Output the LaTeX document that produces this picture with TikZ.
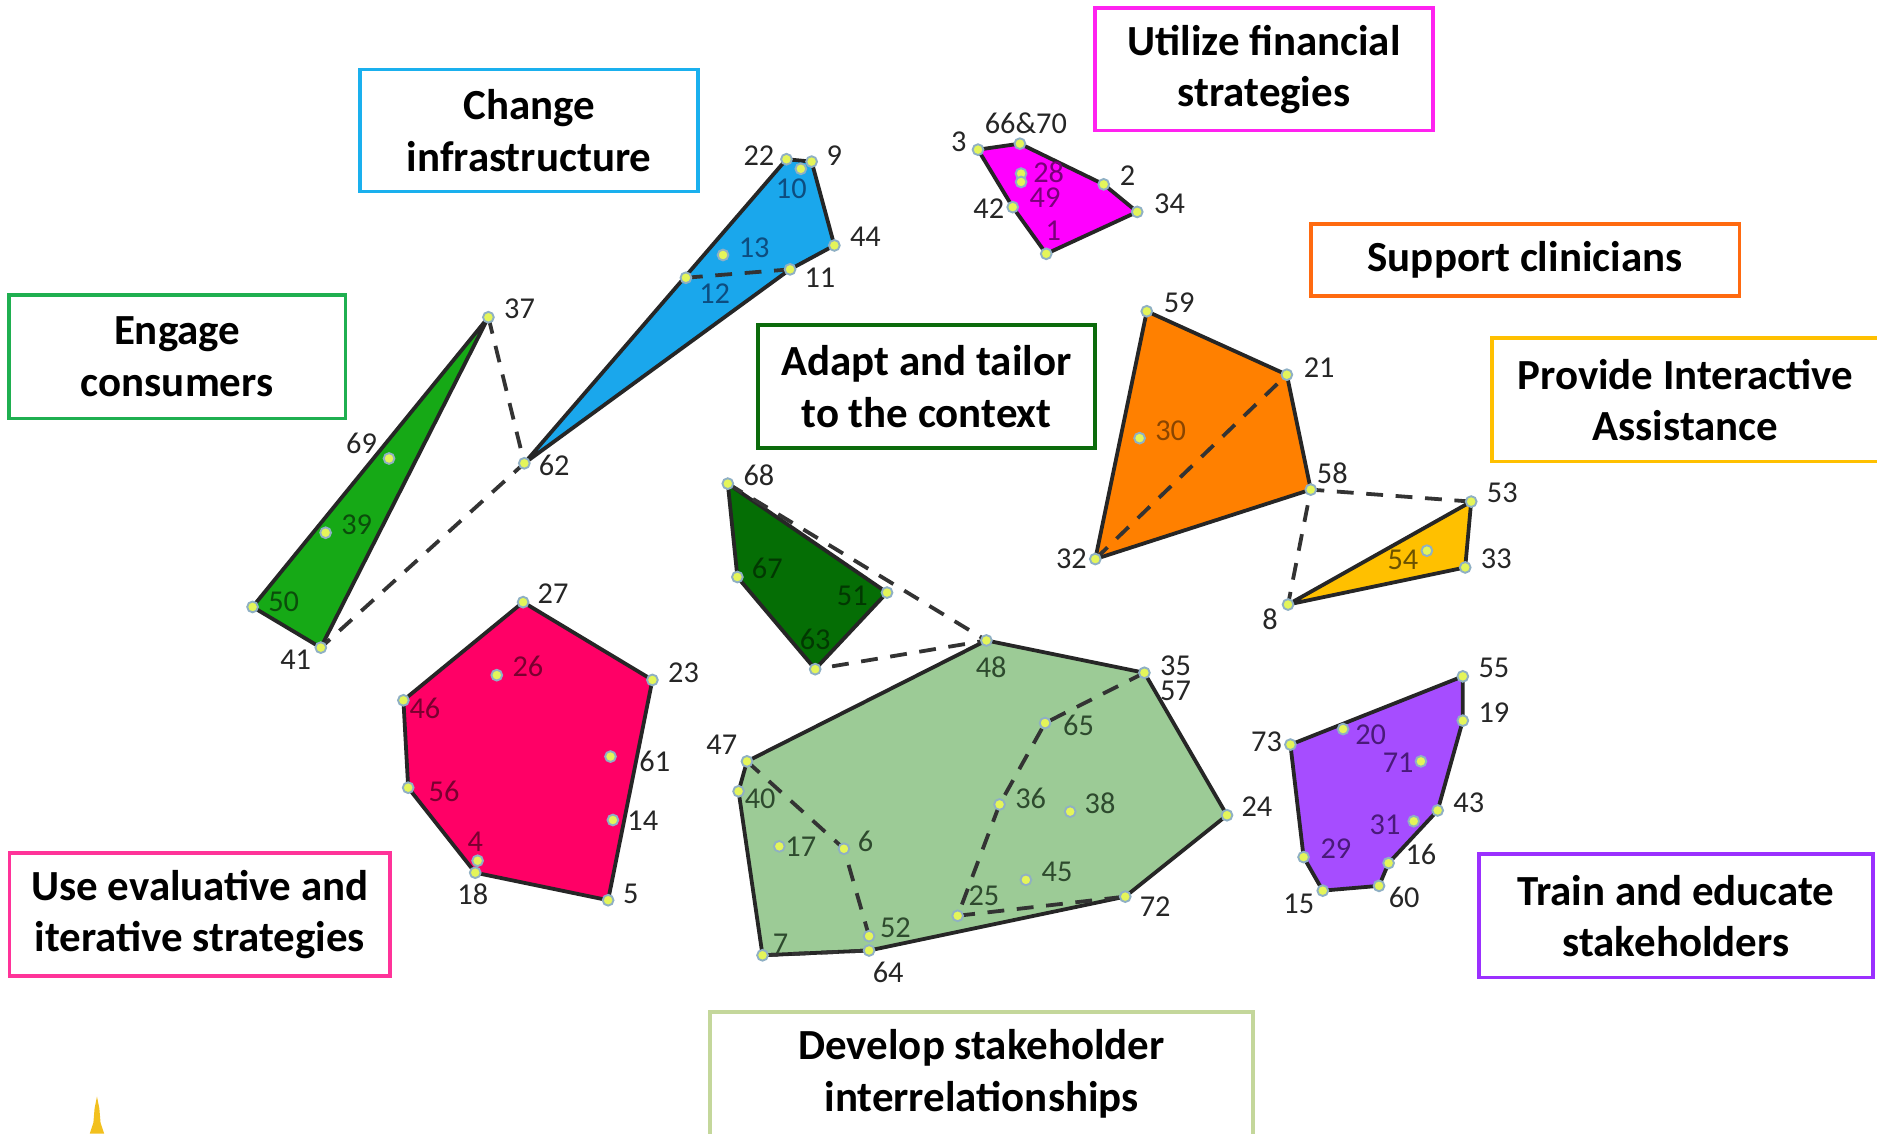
\documentclass[tikz,border=0pt]{standalone}
\usepackage{fontspec}
\setmainfont{Carlito}

\definecolor{cyanfill}{HTML}{1AA7EC}
\definecolor{magfill}{HTML}{FF00FF}
\definecolor{grnfill}{HTML}{16A916}
\definecolor{dkgrnfill}{HTML}{056E05}
\definecolor{orgfill}{HTML}{FF8000}
\definecolor{yelfill}{HTML}{FFC000}
\definecolor{redfill}{HTML}{FF0066}
\definecolor{sagefill}{HTML}{9CCB96}
\definecolor{purfill}{HTML}{A64DFF}
\definecolor{boxblue}{HTML}{1AB0EE}
\definecolor{boxmag}{HTML}{FF22F0}
\definecolor{boxgrn}{HTML}{1FAF50}
\definecolor{boxdkgrn}{HTML}{0B6B0B}
\definecolor{boxorg}{HTML}{FF6A10}
\definecolor{boxyel}{HTML}{FFC000}
\definecolor{boxred}{HTML}{FF3399}
\definecolor{boxsage}{HTML}{C4D79B}
\definecolor{boxpur}{HTML}{9B30FF}
\definecolor{dotfill}{HTML}{E4F55A}
\definecolor{dotrim}{HTML}{8FB0C4}
\definecolor{txblue}{HTML}{0D4D80}
\definecolor{txgrn}{HTML}{0B4D0B}
\definecolor{txdkgrn}{HTML}{023802}
\definecolor{txmag}{HTML}{7A007A}
\definecolor{txorg}{HTML}{8A4500}
\definecolor{txyel}{HTML}{6B5200}
\definecolor{txred}{HTML}{7A0030}
\definecolor{txsage}{HTML}{2E4A2E}
\definecolor{txpur}{HTML}{4A1A7A}
\definecolor{spikecol}{HTML}{F2C01E}

\tikzset{
	catbox/.style={draw=#1, line width=0.9pt, fill=white, align=center, inner sep=0pt,
		font=\bfseries\fontsize{10.2}{12.2}\selectfont},
	hull/.style={fill=#1, draw=black!85, line width=0.9pt, line join=round},
	link/.style={draw=black!80, dash pattern=on 4pt off 3pt, line width=0.9pt},
	dot/.style={circle, fill=dotfill, draw=dotrim, line width=0.45pt, inner sep=0pt, minimum size=0.09cm},
	num/.style={text=#1, inner sep=0pt, font=\fontsize{7.2}{8}\selectfont},
	num/.default=black!85
}

\begin{document}
\begin{tikzpicture}[x=0.01cm, y=-0.01cm]
	\clip (0,0) rectangle (1568,947);
	\fill[white] (0,0) rectangle (1568,947);

	\foreach \n/\x/\y in {22/657/133, 9/678/135, 10/669/141, 44/697/205, 13/604/213, 12/573/232, 11/660/225, 62/438/387,
		37/408/265, 69/325/383, 39/272/445, 50/211/507, 41/268/541,
		3/817/125, 66/852/120, 28/853/145, 49/853/152, 2/922/154, 34/950/177, 42/846/173, 1/874/212,
		59/958/260, 21/1075/313, 30/952/366, 58/1095/409, 32/915/467,
		53/1229/419, 54/1192/460, 33/1224/474, 8/1076/505,
		68/608/404, 67/616/482, 51/741/495, 63/681/559,
		48/824/535, 35/956/562, 65/873/604, 47/624/636, 40/617/661, 36/835/672, 38/894/678, 24/1025/681,
		17/651/707, 6/705/709, 45/857/735, 72/940/749, 25/800/765, 52/726/782, 7/637/798, 64/726/794,
		55/1222/565, 19/1222/602, 73/1078/622, 20/1122/609, 71/1187/636, 43/1201/677, 31/1181/686,
		16/1160/721, 29/1089/716, 15/1105/744, 60/1152/740,
		27/437/503, 26/415/564, 23/545/568, 46/337/585, 61/510/632, 56/341/658, 14/512/685, 4/399/719, 18/397/729, 5/508/752}
		\coordinate (p\n) at (\x,\y);

	\filldraw[hull=cyanfill] (p22) -- (p9) -- (p44) -- (p11) -- (p62) -- cycle;
	\filldraw[hull=grnfill] (p37) -- (p50) -- (p41) -- cycle;
	\filldraw[hull=magfill] (p3) -- (p66) -- (p2) -- (p34) -- (p1) -- (p42) -- cycle;
	\filldraw[hull=orgfill] (p59) -- (p21) -- (p58) -- (p32) -- cycle;
	\filldraw[hull=yelfill] (p53) -- (p33) -- (p8) -- cycle;
	\filldraw[hull=dkgrnfill] (p68) -- (p51) -- (p63) -- (p67) -- cycle;
	\filldraw[hull=sagefill] (p48) -- (p35) -- (p24) -- (p72) -- (p64) -- (p7) -- (p40) -- (p47) -- cycle;
	\filldraw[hull=purfill] (p55) -- (p19) -- (p43) -- (p16) -- (p60) -- (p15) -- (p29) -- (p73) -- cycle;
	\filldraw[hull=redfill] (p27) -- (p23) -- (p5) -- (p18) -- (p56) -- (p46) -- cycle;

	\draw[link] (p12) -- (p11);
	\draw[link] (p37) -- (p62) -- (p41);
	\draw[link] (p32) -- (p21);
	\draw[link] (p53) -- (p58) -- (p8);
	\draw[link] (p68) -- (p48) -- (p63);
	\draw[link] (p47) -- (p6) -- (p52);
	\draw[link] (p7) -- (p64);
	\draw[link] (p35) -- (p65) -- (p36) -- (p25) -- (p72);

	\foreach \n in {22,9,10,44,13,12,11,62,37,69,39,50,41,3,66,28,49,2,34,42,1,59,21,30,58,32,53,54,33,8,
		68,67,51,63,48,35,65,47,40,36,38,24,17,6,45,72,25,52,7,64,55,19,73,20,71,43,31,16,29,15,60,
		27,26,23,46,61,56,14,4,18,5}
		\node[dot] (d\n) at (p\n) {};

	\foreach \n/\x/\y in {22/634/130, 9/697/130, 44/723/198, 11/685/232, 62/463/389, 37/434/258, 69/302/370, 41/247/551,
		3/801/118, 2/942/147, 34/977/170, 42/826/174, 59/985/253, 21/1102/307, 58/1113/395, 32/895/467,
		53/1255/412, 33/1250/467, 8/1061/517, 68/634/397, 35/982/556, 57/982/577, 47/603/622, 24/1050/674,
		72/965/757, 64/742/812, 55/1248/558, 19/1248/595, 73/1058/620, 43/1227/671, 16/1187/714, 15/1085/755,
		60/1173/750, 27/462/496, 23/571/562, 61/547/636, 14/537/686, 18/395/747, 5/527/747}
		\node[num] (l\n) at (\x,\y) {\n};
	\node[num] (l66) at (857,103) {66\&70};
	\foreach \n/\x/\y in {10/661/158, 13/630/207, 12/597/245}
		\node[num=txblue] (l\n) at (\x,\y) {\n};
	\foreach \n/\x/\y in {39/298/438, 50/237/503}
		\node[num=txgrn] (l\n) at (\x,\y) {\n};
	\foreach \n/\x/\y in {28/876/144, 49/873/165, 1/880/193}
		\node[num=txmag] (l\n) at (\x,\y) {\n};
	\node[num=txorg] (l30) at (978,360) {30};
	\node[num=txyel] (l54) at (1172,468) {54};
	\foreach \n/\x/\y in {67/641/475, 51/712/498, 63/681/534}
		\node[num=txdkgrn] (l\n) at (\x,\y) {\n};
	\foreach \n/\x/\y in {26/441/557, 46/355/592, 56/371/661, 4/397/703}
		\node[num=txred] (l\n) at (\x,\y) {\n};
	\foreach \n/\x/\y in {48/828/557, 65/901/606, 40/635/667, 17/669/707, 6/723/703, 36/861/667, 38/919/671,
		45/883/728, 25/822/748, 52/748/775, 7/652/788}
		\node[num=txsage] (l\n) at (\x,\y) {\n};
	\foreach \n/\x/\y in {20/1145/614, 71/1168/637, 31/1157/689, 29/1116/709}
		\node[num=txpur] (l\n) at (\x,\y) {\n};

	\node[catbox=boxblue, minimum width=2.82cm, minimum height=1.02cm] (infra) at (442,109) {Change\\infrastructure};
	\node[catbox=boxmag, minimum width=2.82cm, minimum height=1.02cm] (finance) at (1056,58) {Utilize financial\\strategies};
	\node[catbox=boxgrn, minimum width=2.81cm, minimum height=1.03cm] (consumers) at (148,298) {Engage\\consumers};
	\node[catbox=boxdkgrn, minimum width=2.81cm, minimum height=1.03cm] (adapt) at (774,323) {Adapt and tailor\\to the context};
	\node[catbox=boxorg, minimum width=3.58cm, minimum height=0.60cm] (clinicians) at (1274,217) {Support clinicians};
	\node[catbox=boxyel, minimum width=3.23cm, minimum height=1.03cm] (assist) at (1408,334) {Provide Interactive\\Assistance};
	\node[catbox=boxred, minimum width=3.18cm, minimum height=1.03cm] (evaluate) at (167,764) {Use evaluative and\\iterative strategies};
	\node[catbox=boxpur, minimum width=3.29cm, minimum height=1.03cm] (train) at (1400,765) {Train and educate\\stakeholders};
	\node[catbox=boxsage, minimum width=4.53cm, minimum height=1.03cm] (relations) at (820,897) {Develop stakeholder\\interrelationships};

	\fill[spikecol] (81,916) -- (83,926) -- (84,938) -- (87,947) -- (75,947) -- (78,938) -- (79,926) -- cycle;
\end{tikzpicture}
\end{document}
